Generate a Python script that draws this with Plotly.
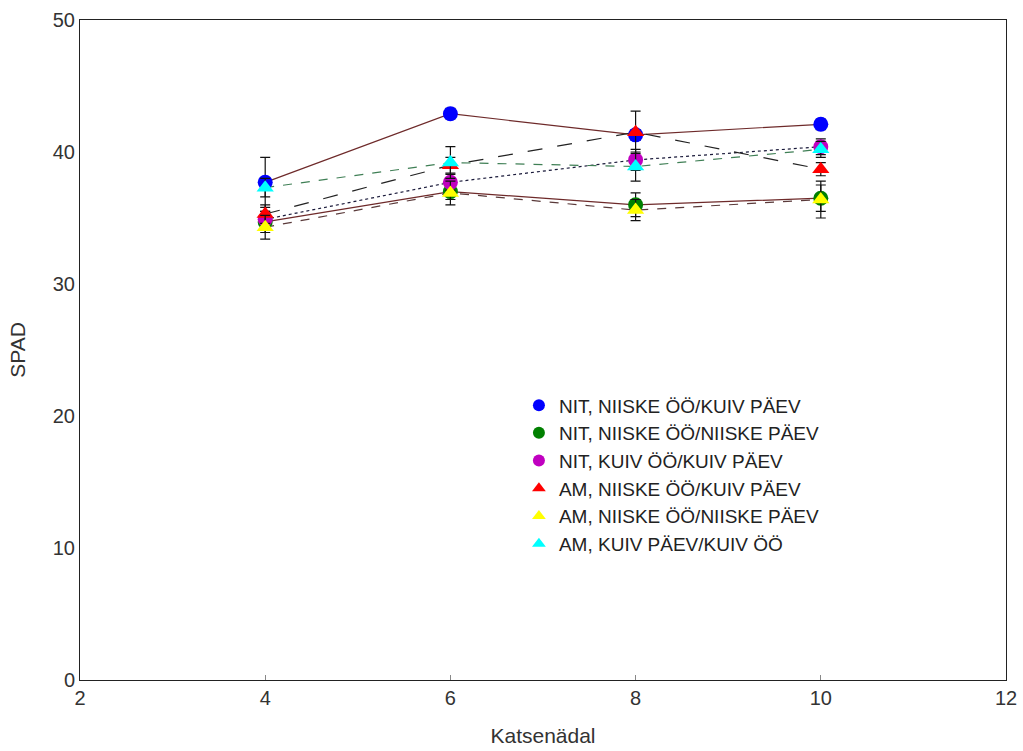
import plotly.graph_objects as go

weeks = [4, 6, 8, 10]

names = [
    "NIT, NIISKE ÖÖ/KUIV PÄEV",
    "NIT, NIISKE ÖÖ/NIISKE PÄEV",
    "NIT, KUIV ÖÖ/KUIV PÄEV",
    "AM, NIISKE ÖÖ/KUIV PÄEV",
    "AM, NIISKE ÖÖ/NIISKE PÄEV",
    "AM, KUIV PÄEV/KUIV ÖÖ",
]

nit_niiske_kuiv = [37.7, 42.9, 41.3, 42.1]
nit_niiske_niiske = [34.7, 37.0, 36.0, 36.5]
nit_kuiv_kuiv = [34.9, 37.7, 39.4, 40.4]
am_niiske_kuiv = [35.3, 39.0, 41.5, 38.7]
am_niiske_niiske = [34.3, 36.9, 35.6, 36.4]
am_kuiv_kuiv = [37.3, 39.2, 38.9, 40.2]

err_nit_niiske_kuiv = [1.9, 0.4, 0.4, 0.4]
err_nit_niiske_niiske = [0.8, 0.6, 0.9, 1.0]
err_nit_kuiv_kuiv = [0.6, 0.6, 0.8, 0.6]
err_am_niiske_kuiv = [0.7, 0.6, 1.6, 0.5]
err_am_niiske_niiske = [0.9, 0.9, 0.8, 1.4]
err_am_kuiv_kuiv = [0.7, 1.2, 1.1, 0.6]

values = [nit_niiske_kuiv, nit_niiske_niiske, nit_kuiv_kuiv,
          am_niiske_kuiv, am_niiske_niiske, am_kuiv_kuiv]
errors = [err_nit_niiske_kuiv, err_nit_niiske_niiske, err_nit_kuiv_kuiv,
          err_am_niiske_kuiv, err_am_niiske_niiske, err_am_kuiv_kuiv]

marker_colors = ["#0000ff", "#008000", "#c000c0", "#ff0000", "#ffff00", "#00ffff"]
symbols = ["circle", "circle", "circle", "triangle-up", "triangle-up", "triangle-up"]
line_colors = ["#6e2a2a", "#6e2a2a", "#1a1a3a", "#222222", "#5a3a3a", "#3f7f55"]
line_dashes = ["solid", "solid", "dot", "longdash", "dash", "dash"]

fig = go.Figure()

# connecting lines (no legend)
for v, lc, ld in zip(values, line_colors, line_dashes):
    fig.add_trace(go.Scatter(
        x=weeks, y=v, mode="lines",
        line=dict(color=lc, width=1.2, dash=ld),
        showlegend=False, hoverinfo="skip",
    ))

# markers with error bars
for n, v, e, mc, s in zip(names, values, errors, marker_colors, symbols):
    fig.add_trace(go.Scatter(
        x=weeks, y=v, mode="markers", name=n,
        marker=dict(color=mc, symbol=s, size=15, line=dict(width=0)),
        error_y=dict(type="data", array=e, visible=True, color="#111111",
                     thickness=1.2, width=5),
    ))

fig.update_layout(
    width=1023, height=751,
    margin=dict(l=80, r=17, t=20, b=71, autoexpand=False),
    paper_bgcolor="white", plot_bgcolor="white",
    font=dict(family="Arial, Liberation Sans, sans-serif", size=20, color="#333333"),
    legend=dict(
        x=0.474, y=0.445, xanchor="left", yanchor="top",
        bgcolor="rgba(0,0,0,0)", font=dict(size=19, color="#222222"),
        tracegroupgap=0, itemsizing="constant", itemwidth=30,
    ),
    xaxis=dict(
        range=[2, 12], tickvals=[2, 4, 6, 8, 10, 12], showgrid=False, zeroline=False,
        showline=True, linecolor="#222222", linewidth=1, mirror=True,
        ticks="inside", ticklen=5, tickcolor="#888888",
        tickfont=dict(size=20, color="#333333"),
        title=dict(text="Katsenädal", font=dict(size=21, color="#333333"), standoff=20),
    ),
    yaxis=dict(
        range=[0, 50], tickvals=[0, 10, 20, 30, 40, 50], showgrid=False, zeroline=False,
        showline=True, linecolor="#222222", linewidth=1, mirror=True,
        ticks="", ticklen=0,
        tickfont=dict(size=20, color="#333333"),
        title=dict(text="SPAD", font=dict(size=21, color="#333333"), standoff=21),
    ),
)

fig.write_html("out.html")
